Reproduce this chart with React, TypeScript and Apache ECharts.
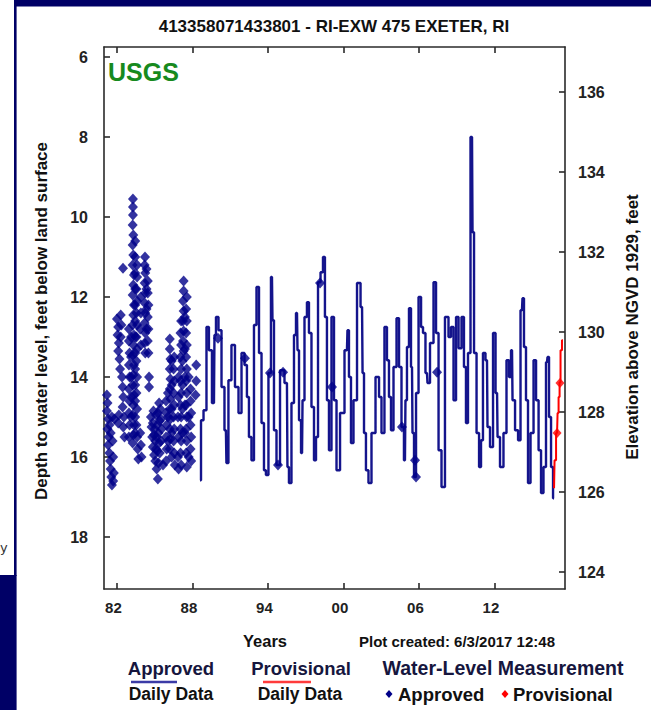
import React, { useEffect, useRef } from 'react';
import * as echarts from 'echarts';

const TITLE = '413358071433801 - RI-EXW 475 EXETER, RI';
const LAND_SURFACE_ELEV = 142.875;
const DEPTH_MIN = 5.75;
const DEPTH_MAX = 19.3;
const YEAR_MIN = 1980.97;
const YEAR_MAX = 2017.61;
const xTickYears = [1982, 1988, 1994, 2000, 2006, 2012];
const xTickLabels = ['82', '88', '94', '00', '06', '12'];
const depthTicks = [6, 8, 10, 12, 14, 16, 18];
const elevTicks = [124, 126, 128, 130, 132, 134, 136];

// Approved daily data: [decimal year, depth below land surface (ft)]
const approvedDaily: [number, number][] = [
  [1988.60, 16.58], [1988.76, 15.08], [1989.00, 14.83], [1989.23, 12.75], [1989.39, 13.33],
  [1989.71, 14.65], [1989.79, 12.95], [1989.95, 12.50], [1990.19, 12.83], [1990.43, 14.25],
  [1990.66, 15.33], [1990.74, 16.15], [1990.98, 14.08], [1991.22, 13.20], [1991.54, 14.25],
  [1991.78, 14.90], [1992.02, 13.40], [1992.25, 13.70], [1992.41, 14.50], [1992.57, 15.50],
  [1992.81, 16.08], [1992.97, 12.70], [1993.21, 11.75], [1993.37, 13.40], [1993.61, 15.15],
  [1993.76, 16.33], [1993.92, 16.45], [1994.16, 13.90], [1994.32, 11.50], [1994.40, 12.58],
  [1994.56, 15.33], [1994.80, 16.20], [1995.12, 13.83], [1995.51, 14.15], [1995.59, 16.25],
  [1995.75, 16.65], [1995.99, 14.65], [1996.15, 12.95], [1996.31, 12.40], [1996.39, 13.33],
  [1996.55, 15.08], [1996.71, 15.90], [1996.79, 14.58], [1997.02, 12.50], [1997.18, 12.13],
  [1997.34, 12.90], [1997.58, 14.75], [1997.74, 16.08], [1997.90, 15.50], [1998.06, 11.63],
  [1998.30, 11.38], [1998.45, 11.00], [1998.61, 12.50], [1998.77, 14.58], [1998.93, 15.83],
  [1999.17, 12.50], [1999.33, 14.58], [1999.57, 16.33], [1999.89, 14.90], [2000.28, 13.33],
  [2000.36, 12.83], [2000.52, 14.00], [2000.68, 15.65], [2000.92, 14.58], [2001.24, 11.65],
  [2001.48, 12.25], [2001.56, 13.90], [2001.71, 15.40], [2001.87, 16.33], [2002.11, 16.65],
  [2002.35, 15.40], [2002.75, 14.00], [2002.91, 14.50], [2003.14, 15.40], [2003.38, 12.75],
  [2003.54, 13.58], [2003.70, 14.50], [2003.86, 15.33], [2004.10, 13.75], [2004.34, 12.53],
  [2004.50, 13.75], [2004.73, 15.25], [2004.89, 16.08], [2004.97, 14.58], [2005.13, 13.25],
  [2005.29, 12.28], [2005.45, 13.75], [2005.53, 15.40], [2005.69, 16.50], [2005.85, 14.40],
  [2006.09, 12.00], [2006.25, 12.75], [2006.40, 12.90], [2006.64, 13.90], [2006.72, 14.15],
  [2007.04, 13.15], [2007.28, 11.63], [2007.44, 12.90], [2007.68, 15.83], [2007.91, 16.75],
  [2008.23, 12.50], [2008.47, 13.00], [2008.63, 12.75], [2008.87, 14.58], [2009.03, 12.50],
  [2009.27, 13.28], [2009.50, 12.50], [2009.66, 13.75], [2009.82, 15.15], [2009.98, 13.40],
  [2010.22, 8.00], [2010.30, 10.38], [2010.46, 13.40], [2010.70, 15.40], [2010.86, 16.25],
  [2011.01, 15.58], [2011.17, 13.40], [2011.41, 13.58], [2011.49, 15.25], [2011.81, 15.75],
  [2011.97, 12.90], [2012.21, 14.40], [2012.29, 15.50], [2012.60, 16.25], [2012.84, 15.40],
  [2013.08, 13.58], [2013.24, 14.00], [2013.40, 13.33], [2013.48, 14.58], [2013.80, 15.33],
  [2013.96, 15.58], [2014.19, 12.33], [2014.27, 12.03], [2014.43, 13.25], [2014.59, 14.58],
  [2014.75, 16.65], [2014.99, 15.40], [2015.23, 13.58], [2015.39, 14.58], [2015.63, 15.83],
  [2015.78, 16.90], [2016.02, 16.25], [2016.18, 13.63], [2016.26, 13.50], [2016.42, 15.00],
  [2016.58, 16.25], [2016.74, 17.03],
];

const provisionalDaily: [number, number][] = [
  [2016.74, 16.78], [2016.82, 16.08], [2016.98, 15.40], [2017.06, 14.90],
  [2017.14, 14.50], [2017.22, 14.13], [2017.29, 13.33], [2017.45, 13.08],
];

// Approved field water-level measurements
const measApproved: [number, number][] = [
  [1981.20, 14.45], [1981.25, 14.65], [1981.20, 14.85], [1981.30, 15.05], [1981.25, 15.30],
  [1981.35, 15.50], [1981.30, 15.70], [1981.40, 15.90], [1981.45, 16.10], [1981.50, 16.30],
  [1981.55, 16.50], [1981.60, 16.70], [1981.70, 16.60], [1981.75, 16.40], [1981.40, 15.20],
  [1981.60, 15.00], [1981.80, 15.05], [1982.15, 14.95], [1982.10, 15.15], [1981.65, 15.60],
  [1981.70, 16.00], [1981.50, 15.40],
  [1982.00, 12.55], [1982.10, 12.75], [1982.05, 12.95], [1982.15, 13.15], [1982.10, 13.35],
  [1982.20, 13.55], [1982.25, 13.80], [1982.30, 13.00], [1982.35, 12.70], [1982.30, 12.45],
  [1982.40, 14.00], [1982.45, 14.25], [1982.50, 14.50], [1982.45, 14.75], [1982.55, 15.00],
  [1982.50, 15.25], [1982.60, 15.50], [1982.48, 11.28],
  [1983.27, 9.55], [1983.27, 9.75], [1983.27, 9.95], [1983.25, 10.20], [1983.30, 10.45],
  [1983.25, 10.70], [1983.30, 10.95], [1983.25, 11.20], [1983.35, 11.45], [1983.30, 11.70],
  [1983.25, 11.95], [1983.35, 12.20], [1983.30, 12.45], [1983.25, 12.70], [1983.35, 12.95],
  [1983.30, 13.20], [1983.25, 13.45], [1983.35, 13.70], [1983.30, 13.95], [1983.25, 14.20],
  [1983.35, 14.45], [1983.30, 14.70], [1983.25, 14.95], [1983.35, 15.20], [1983.30, 15.45],
  [1983.25, 15.65],
  [1983.45, 10.60], [1983.45, 11.00], [1983.45, 11.40], [1983.45, 11.80], [1983.45, 12.20],
  [1983.45, 12.60], [1983.45, 13.00], [1983.45, 13.40], [1983.45, 13.80], [1983.45, 14.20],
  [1983.45, 14.60], [1983.45, 15.00], [1983.45, 15.40],
  [1983.12, 13.00], [1983.12, 13.50], [1983.12, 14.00], [1983.12, 14.50], [1983.12, 15.00],
  [1982.95, 12.80], [1982.95, 13.10], [1983.00, 13.40], [1982.95, 13.70], [1983.00, 14.00],
  [1982.95, 14.30], [1983.00, 14.60], [1982.95, 14.90], [1983.00, 15.20], [1982.95, 15.50],
  [1983.60, 11.20], [1983.60, 11.50], [1983.55, 11.80], [1983.60, 12.10], [1983.55, 12.40],
  [1983.60, 12.70], [1983.55, 13.00], [1983.60, 13.30], [1983.55, 13.60], [1983.60, 14.00],
  [1983.55, 14.40], [1983.60, 14.80], [1983.55, 15.20], [1983.60, 15.50], [1983.65, 15.80],
  [1983.70, 16.05],
  [1983.90, 12.00], [1983.90, 12.40], [1983.85, 12.80], [1983.90, 13.20], [1983.85, 15.40],
  [1983.90, 15.70], [1983.95, 16.00],
  [1984.23, 11.00], [1984.20, 11.20], [1984.25, 11.40], [1984.20, 11.65], [1984.25, 11.90],
  [1984.20, 12.15], [1984.25, 12.40], [1984.20, 12.65], [1984.25, 12.90], [1984.20, 13.15],
  [1984.25, 13.40],
  [1984.35, 11.30], [1984.35, 11.80], [1984.35, 12.30], [1984.35, 12.80],
  [1984.45, 11.60], [1984.45, 11.90], [1984.50, 12.20], [1984.45, 12.50], [1984.50, 12.80],
  [1984.45, 13.10], [1984.50, 13.40], [1984.55, 14.00], [1984.55, 14.25],
  [1984.70, 15.00], [1984.75, 15.25], [1984.80, 15.50], [1984.85, 15.75], [1984.95, 15.95],
  [1985.05, 16.10], [1985.10, 15.80], [1985.15, 15.50], [1985.20, 15.20], [1985.25, 14.90],
  [1985.35, 14.65], [1985.45, 14.80], [1985.50, 15.05], [1985.55, 15.30], [1985.50, 15.60],
  [1985.40, 15.90], [1985.30, 16.15], [1985.00, 15.30], [1984.90, 14.85], [1985.15, 16.30],
  [1985.25, 16.55],
  [1984.85, 15.15], [1985.05, 15.60], [1985.20, 15.85], [1985.30, 15.40], [1985.40, 15.10],
  [1985.10, 14.95], [1984.95, 15.45], [1985.35, 15.65],
  [1986.20, 13.05], [1986.20, 13.30], [1986.25, 13.55], [1986.20, 13.80], [1986.25, 14.05],
  [1986.20, 14.30], [1986.25, 14.55], [1986.20, 14.80], [1986.25, 15.05], [1986.20, 15.30],
  [1986.25, 15.55], [1986.20, 15.80],
  [1985.90, 14.60], [1985.90, 14.90], [1985.95, 15.20], [1985.90, 15.50], [1985.95, 15.80],
  [1985.90, 16.10],
  [1986.05, 14.40], [1986.05, 15.00], [1986.05, 15.60], [1986.35, 13.60], [1986.35, 14.20],
  [1986.35, 14.80], [1986.35, 15.40], [1986.35, 16.00],
  [1986.55, 13.50], [1986.50, 13.80], [1986.55, 14.10], [1986.50, 14.40], [1986.55, 14.70],
  [1986.50, 15.00], [1986.55, 15.30], [1986.50, 15.60], [1986.55, 15.90], [1986.60, 16.20],
  [1985.66, 16.20],
  [1987.30, 11.60], [1987.30, 11.85], [1987.25, 12.10], [1987.30, 12.35], [1987.25, 12.60],
  [1987.30, 12.85], [1987.25, 13.10], [1987.30, 13.35],
  [1987.10, 12.60], [1987.05, 12.90], [1987.10, 13.20], [1987.05, 13.50], [1987.10, 13.80],
  [1987.05, 14.10], [1987.10, 14.40], [1987.05, 14.70], [1987.10, 15.00], [1987.05, 15.30],
  [1987.10, 15.60], [1987.05, 15.90], [1987.10, 16.20],
  [1987.20, 13.60], [1987.20, 14.20], [1987.20, 14.80], [1987.20, 15.40],
  [1987.40, 12.50], [1987.40, 13.30], [1987.40, 14.00], [1987.40, 14.70], [1987.40, 15.40],
  [1987.55, 12.00], [1987.50, 12.30], [1987.55, 12.60], [1987.50, 12.90], [1987.55, 13.20],
  [1987.50, 13.50], [1987.55, 13.80], [1987.50, 14.10], [1987.55, 14.40], [1987.50, 14.70],
  [1987.55, 15.00], [1987.50, 15.30], [1987.55, 15.60], [1987.50, 15.90], [1987.55, 16.25],
  [1987.70, 14.00], [1987.70, 15.00], [1987.70, 16.00],
  [1986.90, 14.00], [1986.90, 14.50], [1986.85, 15.00], [1986.90, 15.50], [1986.85, 16.00],
  [1986.90, 16.30],
  [1987.85, 14.30], [1987.85, 14.60], [1987.90, 14.90], [1987.85, 15.20], [1987.90, 15.50],
  [1987.85, 15.80], [1987.90, 16.10],
  [1988.30, 13.70], [1988.30, 14.10], [1988.25, 14.45],
  [1990.03, 13.03], [1992.17, 13.53], [1994.16, 13.90], [1994.80, 16.20], [1995.20, 13.88],
  [1998.14, 11.65], [1999.09, 14.25], [2004.65, 15.25], [2005.69, 16.08], [2005.77, 16.50],
  [2007.44, 13.88],
];

const measProvisional: [number, number][] = [
  [2016.98, 15.40], [2017.21, 14.15],
];

const NAVY = '#000066';
const FONT = "'Liberation Sans', Arial, Helvetica, sans-serif";
const AXIS_COLOR = '#2a2a2a';

export default function App() {
  const ref = useRef<HTMLDivElement>(null);

  useEffect(() => {
    if (!ref.current) return;
    const chart = echarts.init(ref.current, undefined, { renderer: 'svg' });

    const axisLineStyle = { color: AXIS_COLOR, width: 1.6 };
    const labelStyle = {
      color: '#222',
      fontFamily: FONT,
      fontWeight: 'bold' as const,
      fontSize: 16,
    };

    const option: any = {
      animation: false,
      backgroundColor: '#ffffff',
      grid: { left: 104, top: 47, right: 86, bottom: 121, containLabel: false, outerBoundsMode: 'none' },
      xAxis: [
        {
          type: 'value',
          min: YEAR_MIN,
          max: YEAR_MAX,
          position: 'bottom',
          axisLine: { show: true, lineStyle: axisLineStyle },
          axisTick: { show: true, inside: true, length: 6, customValues: xTickYears, lineStyle: axisLineStyle },
          axisLabel: {
            ...labelStyle,
            fontSize: 15,
            margin: 11,
            padding: [0, 7, 0, 0],
            customValues: xTickYears,
            formatter: (v: number) => {
              const i = xTickYears.indexOf(Math.round(v));
              return i >= 0 ? xTickLabels[i] : '';
            },
          },
          splitLine: { show: false },
        },
        {
          type: 'value',
          min: YEAR_MIN,
          max: YEAR_MAX,
          position: 'top',
          axisLine: { show: true, lineStyle: axisLineStyle },
          axisTick: { show: true, inside: true, length: 6, customValues: xTickYears, lineStyle: axisLineStyle },
          axisLabel: { show: false },
          splitLine: { show: false },
        },
      ],
      yAxis: [
        {
          type: 'value',
          inverse: true,
          min: DEPTH_MIN,
          max: DEPTH_MAX,
          position: 'left',
          axisLine: { show: true, lineStyle: axisLineStyle },
          axisTick: { show: true, inside: true, length: 6, customValues: depthTicks, lineStyle: axisLineStyle },
          axisLabel: { ...labelStyle, margin: 16, customValues: depthTicks },
          splitLine: { show: false },
        },
        {
          type: 'value',
          min: LAND_SURFACE_ELEV - DEPTH_MAX,
          max: LAND_SURFACE_ELEV - DEPTH_MIN,
          position: 'right',
          axisLine: { show: true, lineStyle: axisLineStyle },
          axisTick: { show: true, inside: true, length: 6, customValues: elevTicks, lineStyle: axisLineStyle },
          axisLabel: { ...labelStyle, margin: 13, customValues: elevTicks },
          splitLine: { show: false },
        },
      ],
      series: [
        {
          type: 'line',
          name: 'Approved Daily Data',
          data: approvedDaily,
          xAxisIndex: 0,
          yAxisIndex: 0,
          showSymbol: false,
          symbol: 'none',
          step: 'middle',
          lineStyle: { color: '#14148c', width: 2.4 },
          z: 2,
        },
        {
          type: 'line',
          name: 'Provisional Daily Data',
          data: provisionalDaily,
          xAxisIndex: 0,
          yAxisIndex: 0,
          showSymbol: false,
          symbol: 'none',
          step: 'middle',
          lineStyle: { color: '#ff0000', width: 2 },
          z: 3,
        },
        {
          type: 'scatter',
          name: 'Approved Measurement',
          data: measApproved,
          xAxisIndex: 0,
          yAxisIndex: 0,
          symbol: 'diamond',
          symbolSize: [10, 11],
          itemStyle: { color: '#000088' },
          z: 4,
        },
        {
          type: 'scatter',
          name: 'Provisional Measurement',
          data: measProvisional,
          xAxisIndex: 0,
          yAxisIndex: 0,
          symbol: 'diamond',
          symbolSize: [9, 10],
          itemStyle: { color: '#ff0000' },
          z: 5,
        },
      ],
      graphic: [
        // page frame
        { type: 'rect', z: 0, shape: { x: 14, y: 0, width: 637, height: 6.5 }, style: { fill: NAVY } },
        { type: 'rect', z: 0, shape: { x: 14, y: 0, width: 2.6, height: 576 }, style: { fill: NAVY } },
        { type: 'rect', z: 0, shape: { x: 0, y: 575, width: 16.6, height: 135 }, style: { fill: NAVY } },
        { type: 'text', x: 0, y: 547, style: { text: 'y', fill: '#333', fontSize: 13, fontFamily: "'DejaVu Sans', sans-serif", align: 'left', verticalAlign: 'middle' } },
        // title
        { type: 'text', x: 334, y: 26, style: { text: TITLE, fill: '#111', fontSize: 17, fontWeight: 'bold', fontFamily: FONT, align: 'center', verticalAlign: 'middle' } },
        // USGS
        { type: 'text', x: 108, y: 72, z: 10, style: { text: 'USGS', fill: '#178a1e', fontSize: 25, fontWeight: 'bold', fontFamily: FONT, align: 'left', verticalAlign: 'middle' } },
        // axis titles
        { type: 'text', x: 41, y: 321, rotation: Math.PI / 2, style: { text: 'Depth to water level, feet below land surface', fill: '#111', fontSize: 17, fontWeight: 'bold', fontFamily: FONT, align: 'center', verticalAlign: 'middle' } },
        { type: 'text', x: 632, y: 327, rotation: Math.PI / 2, style: { text: 'Elevation above NGVD 1929, feet', fill: '#111', fontSize: 17, fontWeight: 'bold', fontFamily: FONT, align: 'center', verticalAlign: 'middle' } },
        // footer
        { type: 'text', x: 265, y: 641, style: { text: 'Years', fill: '#111', fontSize: 16.5, fontWeight: 'bold', fontFamily: FONT, align: 'center', verticalAlign: 'middle' } },
        { type: 'text', x: 457, y: 641, style: { text: 'Plot created: 6/3/2017 12:48', fill: '#111', fontSize: 15, fontWeight: 'bold', fontFamily: FONT, align: 'center', verticalAlign: 'middle' } },
        // legend
        { type: 'text', x: 171, y: 668, style: { text: 'Approved', fill: '#16163e', fontSize: 18.5, fontWeight: 'bold', fontFamily: FONT, align: 'center', verticalAlign: 'middle' } },
        { type: 'line', shape: { x1: 131, y1: 682, x2: 177, y2: 682 }, style: { stroke: '#3b3ba6', lineWidth: 2.5 } },
        { type: 'text', x: 171, y: 694, style: { text: 'Daily Data', fill: '#111', fontSize: 17.5, fontWeight: 'bold', fontFamily: FONT, align: 'center', verticalAlign: 'middle' } },
        { type: 'text', x: 301, y: 668, style: { text: 'Provisional', fill: '#16163e', fontSize: 18.5, fontWeight: 'bold', fontFamily: FONT, align: 'center', verticalAlign: 'middle' } },
        { type: 'line', shape: { x1: 263, y1: 682, x2: 311, y2: 682 }, style: { stroke: '#ff3b3b', lineWidth: 2.5 } },
        { type: 'text', x: 300, y: 694, style: { text: 'Daily Data', fill: '#111', fontSize: 17.5, fontWeight: 'bold', fontFamily: FONT, align: 'center', verticalAlign: 'middle' } },
        { type: 'text', x: 503, y: 668, style: { text: 'Water-Level Measurement', fill: '#16163e', fontSize: 19.5, fontWeight: 'bold', fontFamily: FONT, align: 'center', verticalAlign: 'middle' } },
        { type: 'polygon', shape: { points: [[389, 690], [392.5, 694], [389, 698], [385.5, 694]] }, style: { fill: '#000088' } },
        { type: 'text', x: 398, y: 694, style: { text: 'Approved', fill: '#111', fontSize: 18.5, fontWeight: 'bold', fontFamily: FONT, align: 'left', verticalAlign: 'middle' } },
        { type: 'polygon', shape: { points: [[505, 690], [508.5, 694], [505, 698], [501.5, 694]] }, style: { fill: '#ff0000' } },
        { type: 'text', x: 513, y: 694, style: { text: 'Provisional', fill: '#111', fontSize: 18.5, fontWeight: 'bold', fontFamily: FONT, align: 'left', verticalAlign: 'middle' } },
      ],
    };

    chart.setOption(option);
    return () => chart.dispose();
  }, []);

  return (
    <div
      ref={ref}
      style={{ position: 'absolute', left: 0, top: 0, width: 651, height: 710 }}
    />
  );
}
